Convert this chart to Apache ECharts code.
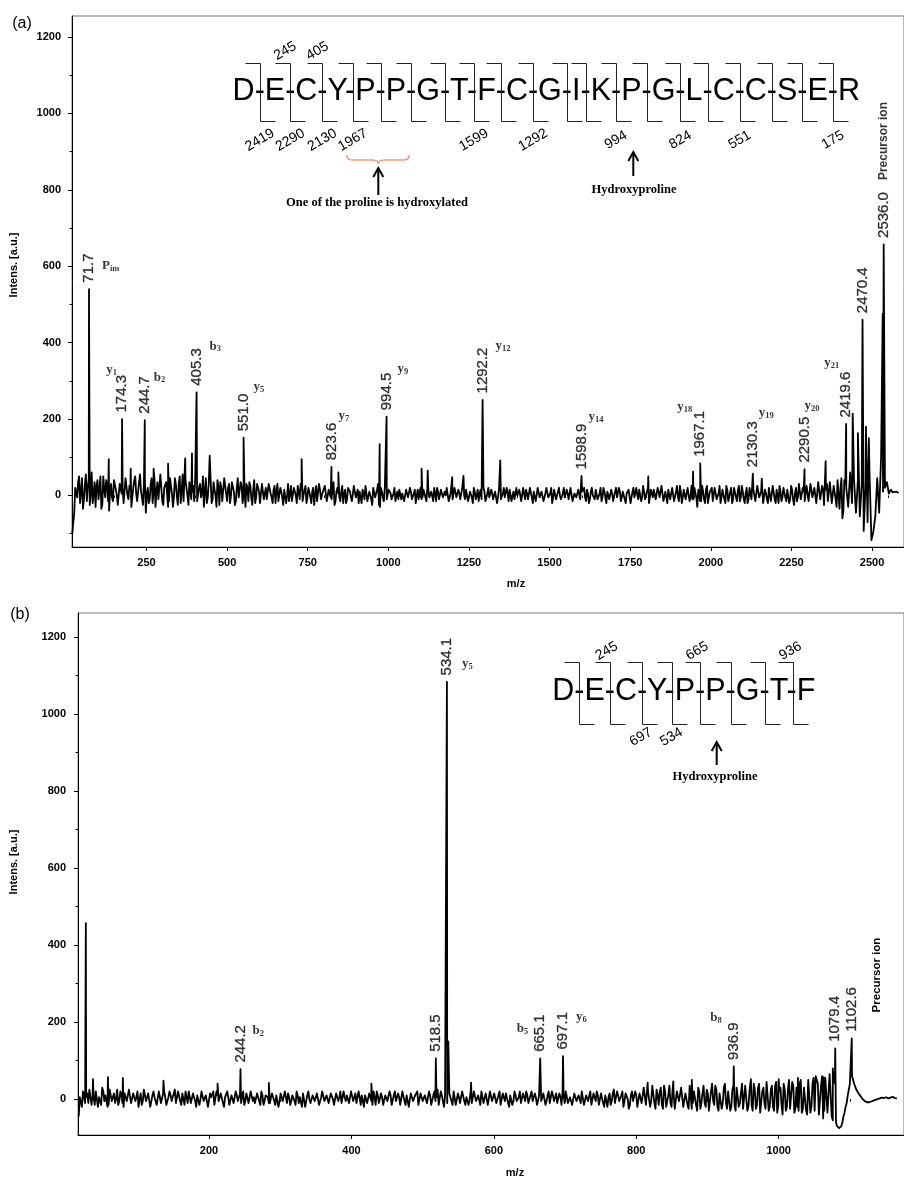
<!DOCTYPE html>
<html>
<head>
<meta charset="utf-8">
<script src="https://cdn.jsdelivr.net/npm/echarts@6/dist/echarts.min.js"></script>
<style>
  html, body { margin: 0; padding: 0; background: #fff; }
  #main { width: 904px; height: 1178px; }
</style>
</head>
<body>
<div id="main"></div>
<script>
// ---------- panel (a) : 21-residue peptide ----------
// baseline read on two interleaved m/z grids (20, 26, ... and 23, 29, ...)
const noiseStepA = 6;
const noiseStartA = 20;
const noiseA = [
  -100, -45, 10, 35, -20, 45, -10, 55, 20, -25, 60, 5, -30, 40, 15, -35, 50, -5, 25, -40,
  30, -15, 45, 0, -30, 35, 20, -25, 50, -10, 15, -35, 40, 5, -20, 55, -5, 30, -45, 20,
  -10, 45, 10, -30, 35, -5, 50, -25, 15, 40, -15, 25, -30, 45, 0, 30, -20, 55, -10, 20,
  -25, 40, 10, -15, 50, -20, 30, 5, -30, 45, -5, 25, -20, 35, 0, 40, -25, 20, -10, 45,
  -15, 30, 0, 40, -25, 20, -5, 35, -20, 15, 30, -15, 25, -25, 40, -5, 20, -20, 30, -10,
  20, -15, 25, -5, 15, -20, 30, -10, 10, -25, 20, 0, -15, 25, -10, 15, -20, 10, 30, -15,
  15, -20, 20, -5, 10, -25, 25, -10, 15, -15, 5, 30, -20, 10, -10, 35, -15, 20, -5, 10,
  -20, 15, -10, 25, -5, -15, 20, 0, -20, 10, 15, -10, 25, -15, 5, -25, 20, -5, 30, -30,
  10, -15, 15, -5, 20, -10, 5, -15, 10, 15, -10, 5, -20, 20, -5, 10, -15, 15, 0, -10,
  20, -5, 10, -15, 15, -10, 5, 20, -15, 10, -5, 15, -10, 0, 20, -15, 10, -5, 15, -10,
  5, -15, 20, -10, 10, -5, 15, -20, 10, 0, -15, 15, -5, 10, -20, 20, -10, 5, -15, 15,
  -5, 10, -15, 20, -10, 5, 15, -15, 10, -5, 0, 15, -15, 20, -10, 5, -5, 15, -20, 10,
  -10, 15, -5, 10, -15, 20, -5, 5, -20, 15, -10, 10, 0, -15, 20, -10, 5, -5, 15, -15,
  10, -10, 20, -15, 5, -5, 15, -20, 10, 0, -10, 15, -15, 20, -5, 10, -20, 15, -5, 5,
  -15, 20, -10, 10, -5, 15, -20, 5, 10, -15, 20, -10, 0, 15, -15, 25, -10, 10, -20, 15,
  -5, 20, -15, 10, -10, 25, -20, 5, 15, -10, 20, -15, 10, -5, 25, -20, 15, -10, 20, -15,
  25, -10, 15, -30, 20, -15, 10, -20, 25, -5, 15, -15, 20, -10, 5, -20, 15, -10, 25, -15,
  10, -20, 20, -5, 15, -15, 25, -10, 5, -20, 20, -10, 15, -15, 25, -5, 10, -20, 15, -10,
  20, -15, 25, -10, 15, -20, 10, -5, 25, -15, 20, -10, 15, -25, 20, -5, 25, -15, 10, -20,
  25, -20, 30, -10, 20, -25, 35, -15, 15, -30, 30, -10, 40, -20, 25, -30, 35, 20, -60, 40
];
const noiseStartA2 = 23;
const noiseA2 = [
  -70, 20, -5, 50, 10, -35, 30, -15, 45, 5, -20, 35, 25, -10, 50, -25, 15, 40, -15, 10,
  -5, 40, 15, -25, 30, 5, -20, 45, 0, 25, -30, 20, 50, -15, 35, 10, -25, 40, 5, -20,
  30, -20, 40, 15, -10, 55, -15, 20, 35, -30, 45, 5, -5, 30, -25, 50, 10, -15, 40, 0,
  35, -10, 25, 45, -15, 20, -5, 50, 10, -20, 30, 40, -10, 15, -30, 25, 35, -15, 45, 5,
  20, -20, 35, 10, -15, 45, -10, 25, 5, -30, 20, 35, -5, 15, -20, 30, 10, -15, 25, 5,
  -10, 30, 5, -20, 25, 10, -15, 20, -5, 15, -20, 30, 5, -15, 20, 0, 25, -10, 15, -20,
  25, -5, 10, -20, 20, 5, -15, 30, -10, 10, 25, -15, 15, -5, 20, -25, 10, 5, -15, 25,
  5, -20, 20, 10, -15, 25, -5, 15, 10, -20, 5, 25, -15, 10, -10, 20, -5, 15, -25, 20,
  -5, 20, -10, 15, 5, -15, 20, 0, -10, 15, 5, -15, 15, -5, 20, -10, 5, -20, 15, 10,
  -10, 15, -5, 20, -5, 10, -15, 5, 20, -10, 15, -5, 10, 20, -15, 5, -10, 20, -5, 15,
  -10, 20, 0, 15, -15, 10, -5, 20, -10, 15, 5, -10, 20, -15, 5, -5, 15, -10, 10, -20,
  15, -10, 5, -5, 20, -15, 10, 0, -10, 20, -5, 10, -15, 5, 15, -10, 20, -5, 10, -15,
  20, -5, 10, -15, 5, 15, -10, 20, -5, 10, -15, 20, -10, 5, -5, 15, -10, 20, -15, 5,
  -5, 15, -10, 10, 20, -15, 5, -10, 20, -5, 15, -10, 5, -15, 20, -5, 10, -10, 15, -15,
  10, -5, 20, -15, 10, -10, 5, 15, -20, 10, -5, 20, -10, 15, -5, 10, -15, 20, -5, 10,
  15, -10, 20, -5, 25, -15, 10, -20, 20, -5, 15, -10, 25, -15, 10, -5, 20, -15, 15, -5,
  -10, 20, -5, 15, -15, 25, -10, 15, -20, 10, 20, -10, 5, -15, 25, -5, 10, -20, 15, -5,
  20, -10, 15, -15, 25, -5, 10, -20, 20, -10, 15, -5, 20, -15, 10, -10, 25, -15, 5, -20,
  15, -10, 20, -20, 10, 25, -15, 20, -5, 15, -20, 25, -10, 5, -15, 30, -10, 20, -15, 25,
  -15, 30, -5, 20, -20, 35, -10, 25, -25, 15, -15, 35, -20, 25, -10, 40, -35, 45, -40, 30
];
const tailStartA = 2420;
const tailA = [
  20, -30, 60, -20, 40, -45, 40, -55, 30, -93, 30, -70, 60, -117, -95, -55, 45, -45, 100, 10,
  20, 35, 5, 15, 8, 4, 10, 6
];
const minorA = [
  [133, 95], [201, 70], [272, 70], [317, 83], [370, 97], [391, 110], [446, 104], [731, 95],
  [845, 60], [973, 134], [1103, 70], [1122, 65], [1198, 48], [1233, 51], [1347, 92],
  [1806, 50], [1945, 62], [2158, 44], [2356, 90], [2440, 214], [2456, 163], [2481, 180],
  [2490, 150], [2533, 476]
];
const peakMzA  = [71.7, 174.3, 244.7, 405.3, 551.0, 823.6, 994.5, 1292.2, 1598.9, 1967.1, 2130.3, 2290.5, 2419.6, 2470.4, 2536.0];
const peakIntA = [540, 200, 197, 270, 151, 75, 206, 250, 51, 84, 57, 69, 187, 460, 657];
const peakIonA = ['P_im', 'y_1', 'b_2', 'b_3', 'y_5', 'y_7', 'y_9', 'y_12', 'y_14', 'y_18', 'y_19', 'y_20', 'y_21', '', ''];
const xTicksA = [250, 500, 750, 1000, 1250, 1500, 1750, 2000, 2250, 2500];
const xMinorA = [50, 100, 150, 200, 300, 350, 400, 450, 550, 600, 650, 700, 800, 850, 900, 950,
  1050, 1100, 1150, 1200, 1300, 1350, 1400, 1450, 1550, 1600, 1650, 1700, 1800, 1850, 1900, 1950,
  2050, 2100, 2150, 2200, 2300, 2350, 2400, 2450, 2550];
const yTicksA = [0, 200, 400, 600, 800, 1000, 1200];
const yMinorA = [-100, 100, 300, 500, 700, 900, 1100];
const seqA = ['D','E','C','Y','P','P','G','T','F','C','G','I','K','P','G','L','C','C','S','E','R'];
const seqTopA = [[1, '245'], [2, '405']];
const seqBotA = [[0, '2419'], [1, '2290'], [2, '2130'], [3, '1967'], [7, '1599'], [9, '1292'], [12, '994'], [14, '824'], [16, '551'], [19, '175']];

// ---------- panel (b) : 9-residue peptide ----------
const noiseStepB = 3;
const noiseStartB = 17;
const noiseB = [
  -45, 10, 20, -10, 15, 25, -15, 5, 20, -20, 10, 30, -5, 15, -15, 20, 5, -10, 25, -5, 10, -20, 15, 0,
  20, -15, 10, 5, -20, 15, -5, 25, -10, 10, -15, 20, 0, -10, 15, -5, 20, -15, 5, 10, -10, 25, -5, 15,
  -15, 10, 20, -10, 5, -5, 15, -20, 10, 0, 20, -10, 15, -15, 5, 20, -10, 10, -5, 15, -20, 10, 5, -10,
  15, -15, 10, 0, -10, 20, -5, 10, -15, 15, 5, -10, 20, -15, 10, -5, 15, -10, 5, 20, -15, 10, -5, 15,
  -10, 5, 15, -15, 10, -5, 20, -10, 5, 15, -20, 10, 0, -10, 15, -5, 10, -15, 20, -5, 10, -10, 15, 0,
  -15, 10, 5, -10, 20, -5, 10, -15, 15, 0, -10, 20, -15, 5, 10, -10, 15, -5, 20, -15, 10, -5, 5, -10,
  15, -10, 10, -15, 20, -5, 5, -10, 15, -15, 10, 0, 20, -10, 5, -15, 15, -5, 10, -10, 20, -15, 10, -5,
  25, -10, 10, -20, 15, -5, 10, -15, 20, -10, 5, -5, 15, -15, 10, 0, -10, 20, -5, 10, -15, 15, -5, 10,
  -10, 15, -5, 10, -15, 20, -10, 5, 15, -10, 10, -15, 20, -5, 5, -10, 15, -5, 10, -15, 20, -10, 5, -5,
  10, -10, 15, -5, 20, -15, 10, 0, -10, 15, -15, 10, 20, -10, 5, -15, 15, -5, 10, -10, 20, -15, 5, 10,
  -15, 15, -5, 10, -10, 20, -20, 10, 5, -15, 15, -10, 20, -5, 10, -20, 15, 0, -15, 20, -10, 10, -20, 15,
  -10, 25, -20, 15, -5, 30, -25, 10, 20, -15, 35, -20, 10, -10, 25, -25, 20, -5, 30, -20, 15, -15, 35, -25,
  20, -15, 30, -25, 15, -10, 25, -30, 20, -5, 35, -20, 15, -25, 30, -10, 20, -30, 25, -15, 30, -20, 15, -25,
  35, -30, 20, -15, 40, -25, 30, -35, 20, -10, 45, -30, 25, -20, 35, -35, 20, -15, 40, -30, 25, -25, 45, -35
];
const noiseStartB2 = 18.5;
const noiseB2 = [
  5, -20, 25, 5, -10, 30, 10, -15, 15, 5, -15, 20, 10, -20, 25, -5, 15, 0, -15, 20, -10, 15, -5, 25,
  -10, 15, -5, 20, 0, -15, 25, -5, 15, -20, 10, 5, -15, 20, -10, 15, 5, -20, 20, -5, 15, -10, 20, -5,
  15, -15, 5, 20, -10, 15, -5, 10, -15, 20, -5, 10, -20, 15, 0, -15, 20, -5, 15, -10, 5, 20, -15, 10,
  -10, 20, -5, 15, 5, -15, 15, -10, 20, -5, -10, 15, -5, 20, -15, 10, 5, -10, 15, -5, 10, -20, 15, -5,
  20, -10, 5, -5, 15, -15, 10, 5, -20, 15, -5, 20, -10, 10, -5, 15, -15, 5, 20, -10, 15, -5, 10, -15,
  15, -5, 20, -15, 5, 10, -10, 20, -5, 15, -15, 5, 10, -20, 15, -5, 10, -15, 5, 20, -10, 15, -15, 10,
  -5, 20, -15, 10, -5, 15, -15, 20, -5, 10, -20, 15, -5, 10, 20, -10, 5, -10, 15, -5, 10, -10, 20, 5,
  -15, 20, -5, 10, -10, 15, -5, 20, -15, 15, -10, 20, -5, 5, -15, 20, -5, 15, -10, 5, 20, -10, 15, -15,
  20, -5, 15, -10, 10, -15, 15, -5, 10, -20, 15, -5, 10, -10, 20, -15, 5, 20, -10, 10, -5, 15, -15, 10,
  -5, 15, -15, 10, -10, 20, -5, 15, -15, 5, 20, -10, 15, -5, 10, -20, 15, -10, 5, 20, -15, 10, -5, 20,
  -10, 5, 20, -15, 15, -10, 10, -20, 15, -5, 25, -15, 10, -10, 20, -5, 15, -25, 10, -5, 20, -20, 15, -10,
  30, -15, 20, -20, 35, -10, 25, -15, 30, -25, 20, -5, 35, -20, 15, -30, 25, -10, 35, -15, 20, -25, 30, -10,
  25, -30, 20, -10, 35, -20, 15, -25, 40, -15, 25, -30, 20, -10, 40, -25, 15, -20, 35, -30, 25, -10, 40, -20,
  30, -20, 45, -30, 25, -15, 40, -35, 30, -25, 50, -20, 35, -30, 45, -15, 30, -40, 25, -20, 50, -30, 35, -25,
  -20, 40, -35, 30, -30, 50, -35, 40, -30, 60, -40, 35, -50, 55, -35, 65, -45, 50, -60, -72, -74, -60, -35, -10
];
const tailStartB = 1025;
const tailB = [
  30, -30, 50, -25, 35, -40, 45, -20, 55, -35, 40, -45, 60, -30, 50, -40, 70, -55, 40, -70, -75, -70, -45, -20,
  10, 40, 60, 40, 25, 15, 8, 0, -5, -8, -8, -6, -4, -2, 0, 2, 4, 3, 5, 2, 4, 6, 3, 2
];
const minorB = [
  [27, 457], [37, 52], [58, 57], [79, 55], [136, 48], [212, 40], [284, 42], [428, 40], [536, 150],
  [568, 43], [816, 43], [852, 46], [878, 50], [961, 52], [1000, 52], [1027, 55], [1052, 60],
  [1063, 57], [1076, 80]
];
const peakMzB  = [244.2, 518.5, 534.1, 665.1, 697.1, 936.9, 1079.4, 1102.6];
const peakIntB = [78, 106, 1083, 106, 112, 85, 132, 158];
const peakIonB = ['b_2', '', 'y_5', 'b_5', 'y_6', 'b_8', '', ''];
const xTicksB = [200, 400, 600, 800, 1000];
const xMinorB = [100, 300, 500, 700, 900, 1100];
const yTicksB = [0, 200, 400, 600, 800, 1000, 1200];
const yMinorB = [100, 300, 500, 700, 900, 1100];
const seqB = ['D','E','C','Y','P','P','G','T','F'];
const seqTopB = [[1, '245'], [4, '665'], [7, '936']];
const seqBotB = [[2, '697'], [3, '534']];

// label placement (px offsets from peak tip)
const ionPosA = [[13,-23,'left'],[-5,-49,'right'],[9,-43,'left'],[13,-46,'left'],[10,-51,'left'],[7,-51,'left'],
  [11,-48,'left'],[13,-54,'left'],[7,-59,'left'],[-8,-57,'right'],[6,-61,'left'],[0,-63,'left'],[-7,-61,'right'],null,null];
const ionPosB = [[12,-38,'left'],null,[15,-18,'left'],[-12,-30,'right'],[13,-39,'left'],[-12,-49,'right'],null,null];

const SANS = 'Liberation Sans', SERIF = 'Liberation Serif';

function sampled(start, step, vals) {
  return vals.map((v, i) => [start + i * step, v]);
}
function spectrum(parts) {
  return [].concat(...parts).sort((a, b) => a[0] - b[0]);
}
const specA = spectrum([
  sampled(noiseStartA, noiseStepA, noiseA), sampled(noiseStartA2, noiseStepA, noiseA2),
  sampled(tailStartA, noiseStepA, tailA), minorA, peakMzA.map((m, i) => [m, peakIntA[i]])
]);
const specB = spectrum([
  sampled(noiseStartB, noiseStepB, noiseB), sampled(noiseStartB2, noiseStepB, noiseB2),
  sampled(tailStartB, noiseStepB, tailB), minorB, peakMzB.map((m, i) => [m, peakIntB[i]])
]);

function xAxisPair(gi, min, max, ticks, minor) {
  return [{
    type: 'value', gridIndex: gi, min: min, max: max, position: 'bottom',
    splitLine: { show: false },
    axisLine: { onZero: false, lineStyle: { color: '#000', width: 1 } },
    axisTick: { customValues: ticks, length: 4, lineStyle: { color: '#000' } },
    axisLabel: { customValues: ticks, formatter: v => String(v), color: '#000', fontFamily: SANS,
      fontWeight: 'bold', fontSize: 11, margin: 10 }
  }, {
    type: 'value', gridIndex: gi, min: min, max: max, position: 'bottom',
    splitLine: { show: false }, axisLine: { show: false }, axisLabel: { show: false },
    axisTick: { customValues: minor, length: 2.5, lineStyle: { color: '#000' } }
  }];
}
function yAxisPair(gi, min, max, ticks, minor, margin) {
  return [{
    type: 'value', gridIndex: gi, min: min, max: max, position: 'left',
    splitLine: { show: false },
    axisLine: { onZero: false, lineStyle: { color: '#000', width: 1 } },
    axisTick: { customValues: ticks, length: 4, lineStyle: { color: '#000' } },
    axisLabel: { customValues: ticks, formatter: v => String(v), color: '#000', fontFamily: SANS,
      fontWeight: 'bold', fontSize: 11, margin: margin }
  }, {
    type: 'value', gridIndex: gi, min: min, max: max, position: 'left',
    splitLine: { show: false }, axisLine: { show: false }, axisLabel: { show: false },
    axisTick: { customValues: minor, length: 2.5, lineStyle: { color: '#000' } }
  }];
}

function valueLabels(axisIdx, mzs, ints, precursorInline) {
  return {
    type: 'scatter', xAxisIndex: axisIdx, yAxisIndex: axisIdx, silent: true,
    symbolSize: 1, itemStyle: { color: 'rgba(0,0,0,0)' },
    data: mzs.map((m, i) => [m, ints[i]]),
    label: {
      show: true, position: 'top', distance: 6, rotate: 90, align: 'left', verticalAlign: 'middle',
      color: '#000', fontFamily: SANS, fontSize: 15,
      formatter: p => {
        const t = '{v|' + p.value[0].toFixed(1) + '}';
        return (precursorInline && p.dataIndex === mzs.length - 1) ? t + '{p|Precursor ion}' : t;
      },
      rich: {
        v: { fontFamily: SANS, fontSize: 15, color: '#000', textBorderColor: '#000', textBorderWidth: 0.3 },
        p: { fontFamily: SANS, fontSize: 12, fontWeight: 'bold', color: '#000', padding: [0, 0, 0, 12] }
      }
    }
  };
}
function ionLabels(axisIdx, mzs, ints, ions, pos) {
  const data = [];
  ions.forEach((ion, i) => {
    if (!ion) return;
    const [base, sub] = ion.split('_');
    data.push({
      value: [mzs[i], ints[i]],
      label: { formatter: '{m|' + base + '}{s|' + sub + '}', offset: [pos[i][0], pos[i][1]], align: pos[i][2] }
    });
  });
  return {
    type: 'scatter', xAxisIndex: axisIdx, yAxisIndex: axisIdx, silent: true,
    symbolSize: 1, itemStyle: { color: 'rgba(0,0,0,0)' }, data: data,
    label: {
      show: true, position: 'inside', verticalAlign: 'middle',
      rich: {
        m: { fontFamily: SERIF, fontWeight: 'bold', fontSize: 13, color: '#000', lineHeight: 15 },
        s: { fontFamily: SERIF, fontWeight: 'bold', fontSize: 8.5, color: '#000', verticalAlign: 'bottom' }
      }
    }
  };
}

// ---------- sequence diagrams & annotations ----------
const measure = document.createElement('canvas').getContext('2d');
const SEQ_FONT = '30.5px "' + SANS + '"';
measure.font = SEQ_FONT;

function seqGraphics(letters, c, topNums, botNums) {
  const els = [{
    type: 'text', x: c.x0, y: c.midY, z: 10,
    style: { text: letters.join('-'), font: SEQ_FONT, fill: '#000', align: 'left', verticalAlign: 'middle' }
  }];
  const dashW = measure.measureText('-').width;
  const breaks = [];
  for (let i = 0; i < letters.length - 1; i++) {
    breaks.push(c.x0 + measure.measureText(letters.slice(0, i + 1).join('-')).width + dashW / 2);
  }
  breaks.forEach(bx => {
    const x = Math.round(bx) + 0.5;
    els.push({
      type: 'polyline', z: 10,
      shape: { points: [[x - 15, c.top], [x, c.top], [x, c.bottom], [x + 15, c.bottom]] },
      style: { stroke: '#222', lineWidth: 1, fill: null }
    });
  });
  const num = (x, y, t) => ({
    type: 'text', x: x, y: y, rotation: Math.PI / 6, z: 10,
    style: { text: t, font: '14px "' + SANS + '"', fill: '#000', align: 'center', verticalAlign: 'middle' }
  });
  topNums.forEach(([i, t]) => els.push(num(breaks[i] + c.topDx, c.topY, t)));
  botNums.forEach(([i, t]) => els.push(num(breaks[i] + c.botDx, c.botY, t)));
  return els;
}
function arrow(x, tipY, endY) {
  return [
    { type: 'line', z: 10, shape: { x1: x, y1: tipY + 1, x2: x, y2: endY }, style: { stroke: '#000', lineWidth: 2 } },
    { type: 'polyline', z: 10, shape: { points: [[x - 5, tipY + 9], [x, tipY], [x + 5, tipY + 9]] },
      style: { stroke: '#000', lineWidth: 2, fill: null } }
  ];
}
function note(x, y, t) {
  return { type: 'text', x: x, y: y, z: 10,
    style: { text: t, font: 'bold 12.5px "' + SERIF + '"', fill: '#000', align: 'center', verticalAlign: 'middle' } };
}
function plain(x, y, t, font, rot) {
  return { type: 'text', x: x, y: y, rotation: rot || 0, z: 10,
    style: { text: t, font: font, fill: '#000', align: 'center', verticalAlign: 'middle' } };
}
const braceColor = '#ef7f5f';
const brace = [
  { type: 'bezierCurve', shape: { x1: 346.7, y1: 155, cpx1: 347, cpy1: 160, x2: 352, y2: 160 } },
  { type: 'line', shape: { x1: 352, y1: 160, x2: 373, y2: 160 } },
  { type: 'bezierCurve', shape: { x1: 373, y1: 160, cpx1: 378, cpy1: 160, x2: 378.3, y2: 163.5 } },
  { type: 'bezierCurve', shape: { x1: 378.3, y1: 163.5, cpx1: 379, cpy1: 160, x2: 384, y2: 160 } },
  { type: 'line', shape: { x1: 384, y1: 160, x2: 404, y2: 160 } },
  { type: 'bezierCurve', shape: { x1: 404, y1: 160, cpx1: 409, cpy1: 160, x2: 409.3, y2: 155 } }
].map(e => Object.assign(e, { z: 10, style: { stroke: braceColor, lineWidth: 1.2, fill: null } }));

const axisFont = 'bold 11px "' + SANS + '"';
const graphics = [].concat(
  seqGraphics(seqA, { x0: 232.6, midY: 91.7, top: 63.5, bottom: 121.5, topDx: -5, topY: 51, botDx: 0, botY: 140 }, seqTopA, seqBotA),
  seqGraphics(seqB, { x0: 552.2, midY: 691.7, top: 662.5, bottom: 724.5, topDx: -3, topY: 651, botDx: -1, botY: 737 }, seqTopB, seqBotB),
  brace,
  arrow(378.3, 168, 195), note(377, 203, 'One of the proline is hydroxylated'),
  arrow(633.3, 152, 176), note(634, 190, 'Hydroxyproline'),
  arrow(716.7, 742, 765), note(715, 777, 'Hydroxyproline'),
  plain(877, 975, 'Precursor ion', 'bold 11.5px "' + SANS + '"', Math.PI / 2),
  plain(22, 24, '(a)', '16px "' + SANS + '"'),
  plain(20, 615, '(b)', '16px "' + SANS + '"'),
  plain(14, 265, 'Intens. [a.u.]', axisFont, Math.PI / 2),
  plain(14, 862, 'Intens. [a.u.]', axisFont, Math.PI / 2),
  plain(516, 584, 'm/z', axisFont),
  plain(515, 1173, 'm/z', axisFont)
);

const chart = echarts.init(document.getElementById('main'));
chart.setOption({
  animation: false,
  backgroundColor: '#fff',
  textStyle: { fontFamily: SANS },
  grid: [
    { left: 72, top: 16, width: 838, height: 531, show: true, borderColor: '#777', borderWidth: 1 },
    { left: 78, top: 613, width: 832, height: 522, show: true, borderColor: '#777', borderWidth: 1 }
  ],
  xAxis: [].concat(xAxisPair(0, 19, 2599, xTicksA, xMinorA), xAxisPair(1, 16, 1176, xTicksB, xMinorB)),
  yAxis: [].concat(yAxisPair(0, -135, 1255, yTicksA, yMinorA, 11), yAxisPair(1, -93, 1262, yTicksB, yMinorB, 12)),
  series: [
    { type: 'line', xAxisIndex: 0, yAxisIndex: 0, data: specA, symbol: 'none', silent: true,
      lineStyle: { color: '#000', width: 1.8, join: 'round' } },
    valueLabels(0, peakMzA, peakIntA, true),
    ionLabels(0, peakMzA, peakIntA, peakIonA, ionPosA),
    { type: 'line', xAxisIndex: 2, yAxisIndex: 2, data: specB, symbol: 'none', silent: true,
      lineStyle: { color: '#000', width: 1.8, join: 'round' } },
    valueLabels(2, peakMzB, peakIntB, false),
    ionLabels(2, peakMzB, peakIntB, peakIonB, ionPosB)
  ],
  graphic: graphics
});
</script>
</body>
</html>
